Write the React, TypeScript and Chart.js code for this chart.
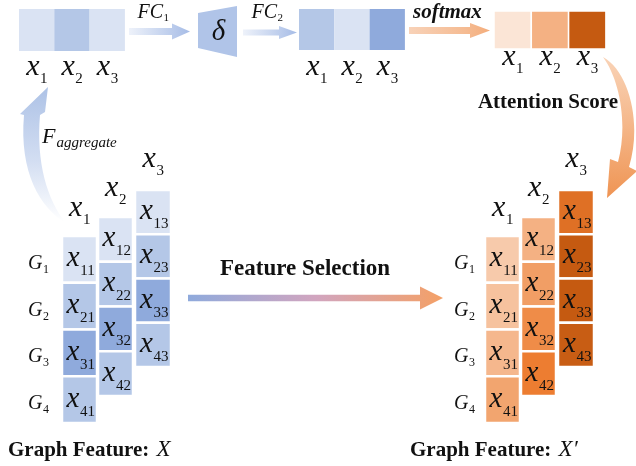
import React, { useEffect, useRef } from 'react';
import { Chart, registerables } from 'chart.js';

Chart.register(...registerables);

// ---------- data ----------
const featureIds = ['1', '2', '3'];
const groupIds = ['1', '2', '3', '4'];
// intensity levels (0 = light, 1 = dark)
const aggregateScores = [0, 0.5, 0];
const fcScores = [0.5, 0, 1];
const attentionScores = [0, 0.5, 1];
const inputMatrix = [
  [0, 0, 0],
  [0.5, 0.5, 0.5],
  [1, 1, 1],
  [0.5, 0.5, 0.5],
];
const outputMatrix = [
  [0.26, 0.5, 0.84],
  [0.34, 0.59, 1],
  [0.44, 0.68, 1],
  [0.56, 0.75, 0.98],
];
const textLabels = {
  fc1: 'FC',
  fc2: 'FC',
  delta: 'δ',
  softmax: 'softmax',
  attention: 'Attention Score',
  selection: 'Feature Selection',
  aggregate: 'aggregate',
  graphFeature: 'Graph Feature:',
};

// ---------- styles ----------
const SERIF = '"Liberation Serif", "Times New Roman", serif';
const BLUE_STOPS: [number, string][] = [[0, '#dae3f3'], [0.5, '#b4c7e7'], [1, '#8faadc']];
const ORANGE_STOPS: [number, string][] = [[0, '#fbe5d6'], [0.5, '#f4b183'], [0.75, '#ed7d31'], [1, '#c55a11']];

function hexToRgb(h: string) {
  const n = parseInt(h.slice(1), 16);
  return [(n >> 16) & 255, (n >> 8) & 255, n & 255];
}
function ramp(stops: [number, string][], t: number) {
  for (let i = 0; i < stops.length - 1; i++) {
    const [t0, c0] = stops[i];
    const [t1, c1] = stops[i + 1];
    if (t <= t1 || i === stops.length - 2) {
      const f = Math.max(0, Math.min(1, (t - t0) / (t1 - t0)));
      const a = hexToRgb(c0), b = hexToRgb(c1);
      const r = a.map((v, k) => Math.round(v + (b[k] - v) * f));
      return `rgb(${r[0]},${r[1]},${r[2]})`;
    }
  }
  return stops[stops.length - 1][1];
}

// ---------- layout (diagram units) ----------
const STRIPS = {
  s1: { x: 19, y: 9, w: 35.3, h: 42, base: 75 },
  s2: { x: 299, y: 9, w: 35.3, h: 41, base: 75 },
  s3: { x: 494, y: 11, w: 37.3, h: 38, base: 65 },
};
const MAT = {
  colX: [62, 98, 135],
  colW: [35, 35, 36],
  colTop: [236, 217, 190],
  rowH: [46.75, 44.75, 44.25],
  headBase: [216, 196, 167],
  gx: 28,
  rightDx: 423,
};

const diagramPlugin = {
  id: 'diagram',
  afterDraw(chart: any) {
    const ctx: CanvasRenderingContext2D = chart.ctx;
    const sx = chart.scales.x, sy = chart.scales.y;
    const X = (v: number) => sx.getPixelForValue(v);
    const Y = (v: number) => sy.getPixelForValue(v);

    const rect = (x: number, y: number, w: number, h: number) => [X(x), Y(y), X(x + w) - X(x), Y(y + h) - Y(y)];

    const subLabel = (
      base: string, sub: string, cx: number, baseline: number,
      bs: number, ss: number, drop: number, align: 'center' | 'left' = 'center', baseFont = 'italic'
    ) => {
      ctx.textAlign = 'left';
      ctx.textBaseline = 'alphabetic';
      ctx.fillStyle = '#111';
      ctx.font = `${baseFont} ${bs}px ${SERIF}`;
      const bw = ctx.measureText(base).width;
      ctx.font = `${ss}px ${SERIF}`;
      const sw = ctx.measureText(sub).width;
      const px = X(cx);
      const x0 = align === 'center' ? px - (bw + sw) / 2 : px;
      ctx.font = `${baseFont} ${bs}px ${SERIF}`;
      ctx.fillText(base, x0, Y(baseline));
      ctx.font = `${ss}px ${SERIF}`;
      ctx.fillText(sub, x0 + bw + 0.5, Y(baseline + drop));
    };

    const straightArrow = (x0: number, x1: number, yc: number, shaftH: number, headL: number, headH: number, stops: [number, string][]) => {
      const g = ctx.createLinearGradient(X(x0), 0, X(x1), 0);
      stops.forEach(([t, c]) => g.addColorStop(t, c));
      ctx.fillStyle = g;
      ctx.beginPath();
      ctx.moveTo(X(x0), Y(yc - shaftH / 2));
      ctx.lineTo(X(x1 - headL), Y(yc - shaftH / 2));
      ctx.lineTo(X(x1 - headL), Y(yc - headH / 2));
      ctx.lineTo(X(x1), Y(yc));
      ctx.lineTo(X(x1 - headL), Y(yc + headH / 2));
      ctx.lineTo(X(x1 - headL), Y(yc + shaftH / 2));
      ctx.lineTo(X(x0), Y(yc + shaftH / 2));
      ctx.closePath();
      ctx.fill();
    };

    ctx.save();

    // ---- straight arrows ----
    straightArrow(129, 190, 31.5, 7, 18, 16, [[0, '#eef2fa'], [1, '#a6bce6']]);
    straightArrow(243, 297, 32.5, 6, 18, 13, [[0, '#eef2fa'], [1, '#a6bce6']]);
    straightArrow(409, 490, 30.5, 7, 20, 15, [[0, '#f8d2b8'], [0.7, '#f5bb92'], [1, '#f4ad7c']]);
    straightArrow(188, 443, 298, 6.5, 23, 23, [[0, '#8faadc'], [0.5, '#d1a5bf'], [1, '#f4a066']]);

    // ---- curved blue arrow (aggregate) ----
    {
      const g = ctx.createLinearGradient(0, Y(87), 0, Y(222));
      g.addColorStop(0, '#adc2e6');
      g.addColorStop(0.55, '#d3def2');
      g.addColorStop(1, '#ffffff');
      ctx.fillStyle = g;
      ctx.beginPath();
      ctx.moveTo(X(66), Y(223));
      ctx.bezierCurveTo(X(40), Y(208), X(19), Y(172), X(24), Y(115));
      ctx.lineTo(X(20), Y(114));
      ctx.lineTo(X(48), Y(87));
      ctx.lineTo(X(45), Y(112));
      ctx.lineTo(X(40), Y(115));
      ctx.bezierCurveTo(X(36), Y(162), X(47), Y(200), X(66), Y(223));
      ctx.closePath();
      ctx.fill();
    }

    // ---- curved orange arrow (to output) ----
    {
      const g = ctx.createLinearGradient(0, Y(57), 0, Y(198));
      g.addColorStop(0, '#f9d3b7');
      g.addColorStop(0.45, '#f5b98d');
      g.addColorStop(1, '#ef9453');
      ctx.fillStyle = g;
      ctx.beginPath();
      ctx.moveTo(X(603), Y(57));
      ctx.bezierCurveTo(X(630), Y(72), X(642), Y(125), X(629), Y(167));
      ctx.lineTo(X(637), Y(171));
      ctx.lineTo(X(607), Y(198));
      ctx.lineTo(X(610), Y(159));
      ctx.lineTo(X(618), Y(162));
      ctx.bezierCurveTo(X(628), Y(125), X(620), Y(80), X(603), Y(57));
      ctx.closePath();
      ctx.fill();
    }

    // ---- trapezoid (delta) ----
    ctx.fillStyle = '#b0c4e8';
    ctx.beginPath();
    ctx.moveTo(X(198), Y(13));
    ctx.lineTo(X(237), Y(6));
    ctx.lineTo(X(237), Y(57));
    ctx.lineTo(X(198), Y(48));
    ctx.closePath();
    ctx.fill();

    // ---- strips ----
    const drawStrip = (vals: number[], stops: [number, string][], s: any, gap: number) => {
      vals.forEach((v, i) => {
        const [rx, ry, rw, rh] = rect(s.x + i * s.w, s.y, s.w, s.h);
        ctx.fillStyle = ramp(stops, v);
        ctx.fillRect(rx, ry, rw, rh);
        if (gap > 0) {
          ctx.strokeStyle = '#ffffff';
          ctx.lineWidth = gap;
          ctx.strokeRect(rx, ry, rw, rh);
        }
        subLabel('x', featureIds[i], s.x + i * s.w + s.w / 2, s.base, 30, 15, 8);
      });
    };
    drawStrip(aggregateScores, BLUE_STOPS, STRIPS.s1, 0);
    drawStrip(fcScores, BLUE_STOPS, STRIPS.s2, 0);
    drawStrip(attentionScores, ORANGE_STOPS, STRIPS.s3, 1.5);

    // ---- matrices ----
    const drawMatrix = (m: number[][], stops: [number, string][], dx: number) => {
      for (let c = 0; c < featureIds.length; c++) {
        const cx = MAT.colX[c] + dx;
        const w = MAT.colW[c];
        for (let r = 0; r < groupIds.length; r++) {
          const y = MAT.colTop[c] + r * MAT.rowH[c];
          const h = MAT.rowH[c];
          const [rx, ry, rw, rh] = rect(cx, y, w, h);
          ctx.fillStyle = ramp(stops, m[r][c]);
          ctx.fillRect(rx, ry, rw, rh);
          ctx.strokeStyle = '#ffffff';
          ctx.lineWidth = 2.5;
          ctx.strokeRect(rx, ry, rw, rh);
          subLabel('x', groupIds[r] + featureIds[c], cx + w / 2 + 1, y + h / 2 + 7, 29, 15, 9);
        }
        subLabel('x', featureIds[c], cx + w / 2, MAT.headBase[c], 30, 15, 8);
      }
      for (let r = 0; r < groupIds.length; r++) {
        const yc = MAT.colTop[0] + r * MAT.rowH[0] + MAT.rowH[0] / 2;
        subLabel('G', groupIds[r], MAT.gx + dx + (dx ? 3 : 0), yc + 9.5, 20, 12, 4, 'left');
      }
    };
    drawMatrix(inputMatrix, BLUE_STOPS, 0);
    drawMatrix(outputMatrix, ORANGE_STOPS, MAT.rightDx);

    // ---- texts ----
    subLabel(textLabels.fc1, '1', 153, 18, 20, 11, 3);
    subLabel(textLabels.fc2, '2', 267, 18, 20, 11, 3);

    ctx.fillStyle = '#111';
    ctx.textAlign = 'center';
    ctx.font = `italic 29px ${SERIF}`;
    ctx.fillText(textLabels.delta, X(218.5), Y(40));

    ctx.font = `bold italic 21px ${SERIF}`;
    ctx.textAlign = 'left';
    ctx.fillText(textLabels.softmax, X(413), Y(18));

    ctx.font = `bold 21px ${SERIF}`;
    ctx.textAlign = 'center';
    ctx.fillText(textLabels.attention, X(548), Y(108));

    ctx.font = `bold 23px ${SERIF}`;
    ctx.textAlign = 'left';
    ctx.fillText(textLabels.selection, X(220), Y(275));

    // F_aggregate
    ctx.font = `italic 22px ${SERIF}`;
    ctx.fillText('F', X(42), Y(143));
    const fw = ctx.measureText('F').width;
    ctx.font = `italic 15px ${SERIF}`;
    ctx.fillText(textLabels.aggregate, X(42) + fw + 1, Y(147));

    // bottom labels
    const bottom = (x0: number, sym: string) => {
      ctx.textAlign = 'left';
      ctx.font = `bold 21px ${SERIF}`;
      ctx.fillStyle = '#111';
      ctx.fillText(textLabels.graphFeature, X(x0), Y(456));
      const w = ctx.measureText(textLabels.graphFeature + ' ').width;
      ctx.font = `italic 23px ${SERIF}`;
      ctx.fillText(sym, X(x0) + w + 2, Y(456));
    };
    bottom(8, 'X');
    bottom(410, 'X′');

    ctx.restore();
  },
};

export default function App() {
  const ref = useRef<HTMLCanvasElement | null>(null);
  useEffect(() => {
    document.body.style.margin = '0';
    if (!ref.current) return;
    const chart = new Chart(ref.current, {
      type: 'scatter',
      data: { datasets: [{ data: [], pointRadius: 0 }] },
      options: {
        animation: false,
        responsive: true,
        maintainAspectRatio: false,
        events: [],
        layout: { padding: 0 },
        plugins: { legend: { display: false }, tooltip: { enabled: false }, title: { display: false } },
        scales: {
          x: { type: 'linear', min: 0, max: 636, display: false },
          y: { type: 'linear', min: 0, max: 466, reverse: true, display: false },
        },
      },
      plugins: [diagramPlugin],
    } as any);
    return () => chart.destroy();
  }, []);
  return (
    <div style={{ position: 'fixed', left: 0, top: 0, width: 636, height: 466, background: '#ffffff' }}>
      <canvas ref={ref} />
    </div>
  );
}
